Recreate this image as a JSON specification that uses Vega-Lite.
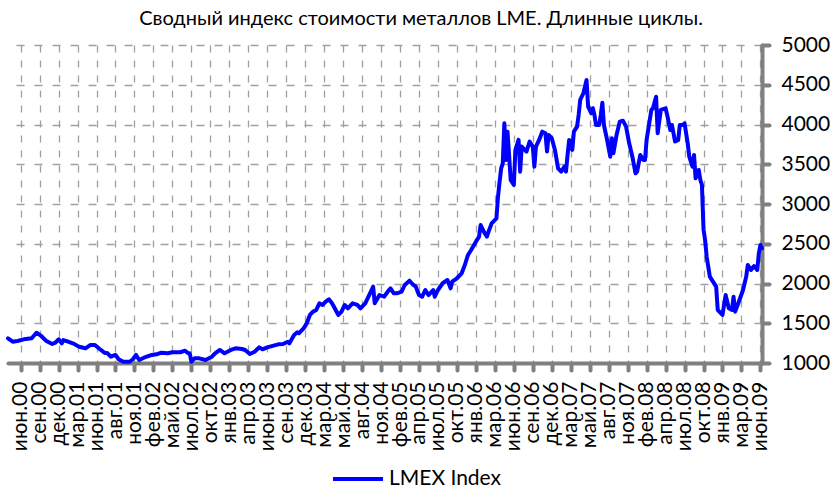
{
  "$schema": "https://vega.github.io/schema/vega-lite/v6.json",
  "width": 754,
  "height": 318,
  "autosize": {"type": "none"},
  "padding": {"left": 8, "top": 45, "right": 76, "bottom": 131},
  "background": "white",
  "title": {
    "text": "Сводный индекс стоимости металлов LME. Длинные циклы.",
    "font": "Lato",
    "fontSize": 20,
    "fontWeight": "normal",
    "color": "#000000",
    "anchor": "middle",
    "frame": "group",
    "baseline": "alphabetic",
    "offset": 2,
    "dy": 13,
    "dx": 36
  },
  "data": {
    "values": [
      {"date": "2000-05-05", "value": 1311},
      {"date": "2000-05-26", "value": 1268},
      {"date": "2000-06-16", "value": 1277},
      {"date": "2000-07-14", "value": 1298},
      {"date": "2000-08-18", "value": 1311},
      {"date": "2000-09-08", "value": 1381},
      {"date": "2000-09-29", "value": 1340},
      {"date": "2000-10-20", "value": 1281},
      {"date": "2000-11-17", "value": 1239},
      {"date": "2000-12-01", "value": 1255},
      {"date": "2000-12-15", "value": 1298},
      {"date": "2000-12-29", "value": 1248},
      {"date": "2001-01-05", "value": 1289},
      {"date": "2001-01-26", "value": 1268},
      {"date": "2001-02-16", "value": 1248},
      {"date": "2001-03-16", "value": 1205},
      {"date": "2001-04-13", "value": 1185},
      {"date": "2001-05-04", "value": 1226},
      {"date": "2001-05-25", "value": 1226},
      {"date": "2001-06-15", "value": 1176},
      {"date": "2001-07-06", "value": 1130},
      {"date": "2001-07-20", "value": 1122},
      {"date": "2001-08-03", "value": 1079},
      {"date": "2001-08-24", "value": 1101},
      {"date": "2001-09-07", "value": 1047},
      {"date": "2001-09-28", "value": 1016},
      {"date": "2001-10-26", "value": 1016},
      {"date": "2001-11-09", "value": 1047},
      {"date": "2001-11-23", "value": 1101},
      {"date": "2001-12-07", "value": 1038},
      {"date": "2001-12-28", "value": 1067},
      {"date": "2002-02-01", "value": 1101},
      {"date": "2002-02-22", "value": 1109},
      {"date": "2002-03-15", "value": 1130},
      {"date": "2002-04-12", "value": 1122},
      {"date": "2002-05-03", "value": 1135},
      {"date": "2002-06-07", "value": 1135},
      {"date": "2002-06-28", "value": 1155},
      {"date": "2002-07-12", "value": 1122},
      {"date": "2002-07-19", "value": 1122},
      {"date": "2002-07-26", "value": 1016},
      {"date": "2002-08-09", "value": 1059},
      {"date": "2002-08-30", "value": 1059},
      {"date": "2002-09-27", "value": 1038},
      {"date": "2002-10-25", "value": 1079},
      {"date": "2002-11-08", "value": 1122},
      {"date": "2002-11-29", "value": 1164},
      {"date": "2002-12-20", "value": 1122},
      {"date": "2003-01-17", "value": 1164},
      {"date": "2003-02-07", "value": 1185},
      {"date": "2003-03-07", "value": 1176},
      {"date": "2003-03-21", "value": 1164},
      {"date": "2003-04-11", "value": 1113},
      {"date": "2003-05-02", "value": 1142},
      {"date": "2003-05-23", "value": 1197},
      {"date": "2003-06-06", "value": 1172},
      {"date": "2003-06-27", "value": 1197},
      {"date": "2003-07-25", "value": 1218},
      {"date": "2003-08-15", "value": 1235},
      {"date": "2003-09-05", "value": 1239},
      {"date": "2003-09-26", "value": 1268},
      {"date": "2003-10-03", "value": 1248},
      {"date": "2003-10-24", "value": 1352},
      {"date": "2003-11-07", "value": 1386},
      {"date": "2003-11-14", "value": 1374},
      {"date": "2003-12-05", "value": 1436},
      {"date": "2003-12-19", "value": 1499},
      {"date": "2004-01-02", "value": 1604},
      {"date": "2004-01-16", "value": 1646},
      {"date": "2004-01-30", "value": 1667},
      {"date": "2004-02-13", "value": 1751},
      {"date": "2004-02-27", "value": 1730},
      {"date": "2004-03-12", "value": 1771},
      {"date": "2004-03-26", "value": 1801},
      {"date": "2004-04-09", "value": 1751},
      {"date": "2004-05-07", "value": 1604},
      {"date": "2004-05-21", "value": 1646},
      {"date": "2004-06-04", "value": 1730},
      {"date": "2004-06-18", "value": 1688},
      {"date": "2004-07-09", "value": 1751},
      {"date": "2004-07-30", "value": 1730},
      {"date": "2004-08-13", "value": 1688},
      {"date": "2004-09-03", "value": 1751},
      {"date": "2004-10-01", "value": 1918},
      {"date": "2004-10-08", "value": 1960},
      {"date": "2004-10-15", "value": 1751},
      {"date": "2004-11-05", "value": 1855},
      {"date": "2004-11-26", "value": 1834},
      {"date": "2004-12-17", "value": 1918},
      {"date": "2004-12-24", "value": 1939},
      {"date": "2005-01-07", "value": 1877},
      {"date": "2005-01-21", "value": 1877},
      {"date": "2005-02-11", "value": 1897},
      {"date": "2005-02-25", "value": 1981},
      {"date": "2005-03-18", "value": 2035},
      {"date": "2005-04-01", "value": 1990},
      {"date": "2005-04-15", "value": 1960},
      {"date": "2005-04-29", "value": 1855},
      {"date": "2005-05-13", "value": 1834},
      {"date": "2005-05-27", "value": 1918},
      {"date": "2005-06-10", "value": 1855},
      {"date": "2005-07-01", "value": 1918},
      {"date": "2005-07-08", "value": 1834},
      {"date": "2005-07-22", "value": 1918},
      {"date": "2005-08-12", "value": 2003},
      {"date": "2005-09-02", "value": 2044},
      {"date": "2005-09-16", "value": 1939},
      {"date": "2005-09-23", "value": 2023},
      {"date": "2005-10-14", "value": 2066},
      {"date": "2005-11-04", "value": 2128},
      {"date": "2005-11-18", "value": 2233},
      {"date": "2005-12-02", "value": 2359},
      {"date": "2005-12-16", "value": 2422},
      {"date": "2006-01-06", "value": 2526},
      {"date": "2006-01-20", "value": 2589},
      {"date": "2006-01-27", "value": 2736},
      {"date": "2006-02-10", "value": 2652},
      {"date": "2006-02-24", "value": 2589},
      {"date": "2006-03-03", "value": 2652},
      {"date": "2006-03-17", "value": 2757},
      {"date": "2006-04-07", "value": 2820},
      {"date": "2006-04-14", "value": 3092},
      {"date": "2006-04-21", "value": 3281},
      {"date": "2006-04-28", "value": 3449},
      {"date": "2006-05-05", "value": 3512},
      {"date": "2006-05-12", "value": 4015},
      {"date": "2006-05-19", "value": 3554},
      {"date": "2006-05-26", "value": 3910},
      {"date": "2006-06-02", "value": 3617},
      {"date": "2006-06-09", "value": 3302},
      {"date": "2006-06-23", "value": 3239},
      {"date": "2006-06-30", "value": 3680},
      {"date": "2006-07-14", "value": 3806},
      {"date": "2006-07-21", "value": 3407},
      {"date": "2006-07-28", "value": 3722},
      {"date": "2006-08-18", "value": 3659},
      {"date": "2006-09-01", "value": 3785},
      {"date": "2006-09-15", "value": 3722},
      {"date": "2006-09-22", "value": 3470},
      {"date": "2006-09-29", "value": 3722},
      {"date": "2006-10-13", "value": 3806},
      {"date": "2006-10-27", "value": 3910},
      {"date": "2006-11-10", "value": 3889},
      {"date": "2006-11-17", "value": 3659},
      {"date": "2006-11-24", "value": 3868},
      {"date": "2006-12-08", "value": 3827},
      {"date": "2006-12-22", "value": 3680},
      {"date": "2007-01-05", "value": 3449},
      {"date": "2007-01-19", "value": 3407},
      {"date": "2007-02-02", "value": 3470},
      {"date": "2007-02-09", "value": 3407},
      {"date": "2007-02-16", "value": 3617},
      {"date": "2007-02-23", "value": 3806},
      {"date": "2007-03-09", "value": 3680},
      {"date": "2007-03-16", "value": 3910},
      {"date": "2007-03-30", "value": 3973},
      {"date": "2007-04-06", "value": 4120},
      {"date": "2007-04-13", "value": 4309},
      {"date": "2007-04-27", "value": 4393},
      {"date": "2007-05-11", "value": 4560},
      {"date": "2007-05-18", "value": 4225},
      {"date": "2007-06-01", "value": 4141},
      {"date": "2007-06-08", "value": 4204},
      {"date": "2007-06-15", "value": 4120},
      {"date": "2007-06-22", "value": 3994},
      {"date": "2007-07-06", "value": 3994},
      {"date": "2007-07-13", "value": 4120},
      {"date": "2007-07-20", "value": 4275},
      {"date": "2007-07-27", "value": 3994},
      {"date": "2007-08-10", "value": 3806},
      {"date": "2007-08-24", "value": 3595},
      {"date": "2007-08-31", "value": 3827},
      {"date": "2007-09-07", "value": 3638},
      {"date": "2007-09-21", "value": 3868},
      {"date": "2007-10-05", "value": 4036},
      {"date": "2007-10-19", "value": 4048},
      {"date": "2007-11-02", "value": 3973},
      {"date": "2007-11-16", "value": 3764},
      {"date": "2007-11-30", "value": 3595},
      {"date": "2007-12-14", "value": 3386},
      {"date": "2007-12-21", "value": 3407},
      {"date": "2008-01-04", "value": 3617},
      {"date": "2008-01-18", "value": 3554},
      {"date": "2008-01-25", "value": 3554},
      {"date": "2008-02-01", "value": 3806},
      {"date": "2008-02-22", "value": 4183},
      {"date": "2008-02-29", "value": 4204},
      {"date": "2008-03-14", "value": 4350},
      {"date": "2008-03-21", "value": 3890},
      {"date": "2008-04-04", "value": 4183},
      {"date": "2008-04-25", "value": 4204},
      {"date": "2008-05-02", "value": 4120},
      {"date": "2008-05-16", "value": 3931},
      {"date": "2008-05-23", "value": 3994},
      {"date": "2008-06-06", "value": 3785},
      {"date": "2008-06-20", "value": 3806},
      {"date": "2008-06-27", "value": 3994},
      {"date": "2008-07-11", "value": 3994},
      {"date": "2008-07-18", "value": 4015},
      {"date": "2008-08-01", "value": 3764},
      {"date": "2008-08-08", "value": 3595},
      {"date": "2008-08-22", "value": 3470},
      {"date": "2008-08-29", "value": 3617},
      {"date": "2008-09-05", "value": 3323},
      {"date": "2008-09-19", "value": 3428},
      {"date": "2008-09-26", "value": 3302},
      {"date": "2008-10-03", "value": 3240},
      {"date": "2008-10-10", "value": 2680},
      {"date": "2008-10-17", "value": 2547},
      {"date": "2008-10-24", "value": 2337},
      {"date": "2008-11-07", "value": 2086},
      {"date": "2008-11-21", "value": 2023},
      {"date": "2008-12-05", "value": 1960},
      {"date": "2008-12-12", "value": 1667},
      {"date": "2008-12-19", "value": 1646},
      {"date": "2009-01-02", "value": 1604},
      {"date": "2009-01-16", "value": 1855},
      {"date": "2009-01-30", "value": 1688},
      {"date": "2009-02-13", "value": 1667},
      {"date": "2009-02-20", "value": 1834},
      {"date": "2009-02-27", "value": 1646},
      {"date": "2009-03-13", "value": 1751},
      {"date": "2009-04-03", "value": 1918},
      {"date": "2009-04-17", "value": 2086},
      {"date": "2009-04-24", "value": 2233},
      {"date": "2009-05-08", "value": 2170},
      {"date": "2009-05-22", "value": 2220},
      {"date": "2009-06-05", "value": 2170},
      {"date": "2009-06-12", "value": 2380},
      {"date": "2009-06-19", "value": 2484},
      {"date": "2009-06-26", "value": 2443}
    ]
  },
  "mark": {"type": "line", "strokeWidth": 4, "strokeJoin": "round", "strokeCap": "round"},
  "encoding": {
    "x": {
      "field": "date",
      "type": "temporal",
      "scale": {
        "type": "utc",
        "domain": [
          {"year": 2000, "month": 5, "date": 5, "utc": true},
          {"year": 2009, "month": 6, "date": 26, "utc": true}
        ]
      },
      "axis": {
        "title": null,
        "orient": "bottom",
        "values": [
          {"year": 2000, "month": 6, "date": 30, "utc": true},
          {"year": 2000, "month": 9, "date": 22, "utc": true},
          {"year": 2000, "month": 12, "date": 15, "utc": true},
          {"year": 2001, "month": 3, "date": 9, "utc": true},
          {"year": 2001, "month": 6, "date": 1, "utc": true},
          {"year": 2001, "month": 8, "date": 24, "utc": true},
          {"year": 2001, "month": 11, "date": 16, "utc": true},
          {"year": 2002, "month": 2, "date": 8, "utc": true},
          {"year": 2002, "month": 5, "date": 3, "utc": true},
          {"year": 2002, "month": 7, "date": 26, "utc": true},
          {"year": 2002, "month": 10, "date": 18, "utc": true},
          {"year": 2003, "month": 1, "date": 10, "utc": true},
          {"year": 2003, "month": 4, "date": 4, "utc": true},
          {"year": 2003, "month": 6, "date": 27, "utc": true},
          {"year": 2003, "month": 9, "date": 19, "utc": true},
          {"year": 2003, "month": 12, "date": 12, "utc": true},
          {"year": 2004, "month": 3, "date": 5, "utc": true},
          {"year": 2004, "month": 5, "date": 28, "utc": true},
          {"year": 2004, "month": 8, "date": 20, "utc": true},
          {"year": 2004, "month": 11, "date": 12, "utc": true},
          {"year": 2005, "month": 2, "date": 4, "utc": true},
          {"year": 2005, "month": 4, "date": 29, "utc": true},
          {"year": 2005, "month": 7, "date": 22, "utc": true},
          {"year": 2005, "month": 10, "date": 14, "utc": true},
          {"year": 2006, "month": 1, "date": 6, "utc": true},
          {"year": 2006, "month": 3, "date": 31, "utc": true},
          {"year": 2006, "month": 6, "date": 23, "utc": true},
          {"year": 2006, "month": 9, "date": 15, "utc": true},
          {"year": 2006, "month": 12, "date": 8, "utc": true},
          {"year": 2007, "month": 3, "date": 2, "utc": true},
          {"year": 2007, "month": 5, "date": 25, "utc": true},
          {"year": 2007, "month": 8, "date": 17, "utc": true},
          {"year": 2007, "month": 11, "date": 9, "utc": true},
          {"year": 2008, "month": 2, "date": 1, "utc": true},
          {"year": 2008, "month": 4, "date": 25, "utc": true},
          {"year": 2008, "month": 7, "date": 18, "utc": true},
          {"year": 2008, "month": 10, "date": 10, "utc": true},
          {"year": 2009, "month": 1, "date": 2, "utc": true},
          {"year": 2009, "month": 3, "date": 27, "utc": true},
          {"year": 2009, "month": 6, "date": 19, "utc": true}
        ],
        "labelExpr": "['янв','фев','мар','апр','май','июн','июл','авг','сен','окт','ноя','дек'][utcmonth(datum.value)] + '.' + utcFormat(datum.value, '%y')",
        "labelAngle": -90,
        "labelAlign": "right",
        "labelBaseline": "middle",
        "labelFont": "Lato",
        "labelFontSize": 21,
        "labelColor": "#000000",
        "labelPadding": 11,
        "labelOverlap": false,
        "labelFlush": false,
        "tickSize": 7,
        "tickWidth": 4,
        "tickColor": "#808080",
        "tickCap": "round",
        "domainColor": "#808080",
        "domainWidth": 4,
        "domainCap": "round",
        "grid": true,
        "gridColor": "#a0a0a0",
        "gridWidth": 1.3,
        "gridDash": [7, 8]
      }
    },
    "y": {
      "field": "value",
      "type": "quantitative",
      "scale": {"domain": [1000, 5000], "nice": false, "zero": false},
      "axis": {
        "title": null,
        "orient": "right",
        "values": [1000, 1500, 2000, 2500, 3000, 3500, 4000, 4500, 5000],
        "format": "d",
        "labelFont": "Lato",
        "labelFontSize": 21,
        "labelColor": "#000000",
        "labelPadding": 12,
        "tickSize": 7,
        "tickWidth": 4,
        "tickColor": "#808080",
        "tickCap": "round",
        "domainColor": "#808080",
        "domainWidth": 4,
        "domainCap": "round",
        "grid": true,
        "gridColor": "#a0a0a0",
        "gridWidth": 1.3,
        "gridDash": [8, 10]
      }
    },
    "color": {
      "datum": "LMEX Index",
      "type": "nominal",
      "scale": {"range": ["#0000FF"]},
      "legend": {
        "title": null,
        "orient": "none",
        "legendX": 323,
        "legendY": 407,
        "symbolType": "stroke",
        "symbolSize": 2500,
        "symbolStrokeWidth": 4,
        "labelFont": "Lato",
        "labelFontSize": 21,
        "labelColor": "#000000",
        "labelOffset": 4
      }
    }
  },
  "config": {"view": {"stroke": null}}
}
